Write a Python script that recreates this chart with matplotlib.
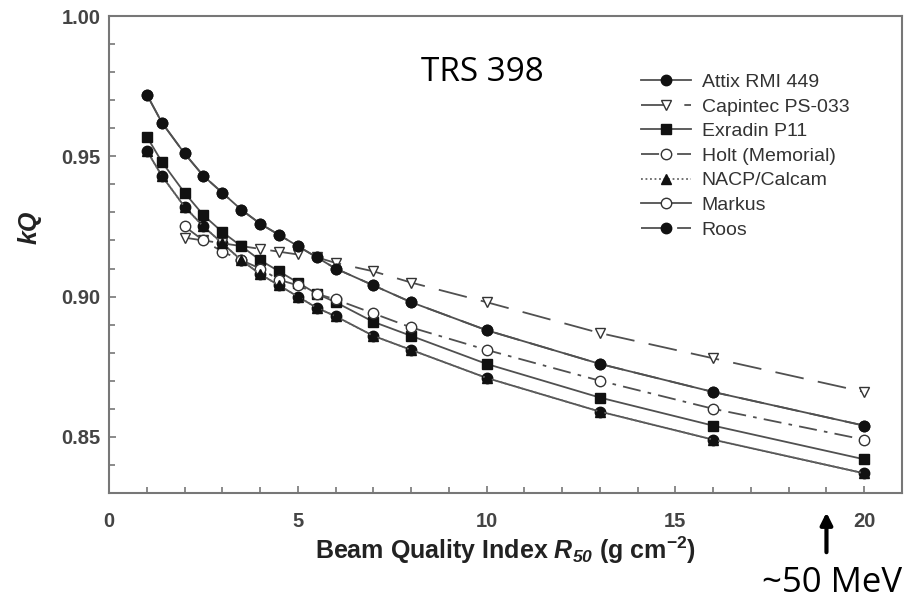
import matplotlib.pyplot as plt
import numpy as np

# ==========================================
# DATA
# ==========================================
r50 = [1.0, 1.4, 2.0, 2.5, 3.0, 3.5, 4.0, 4.5, 5.0, 5.5, 6.0, 7.0, 8.0, 10.0, 13.0, 16.0, 20.0]
r50_short = [2.0, 2.5, 3.0, 3.5, 4.0, 4.5, 5.0, 5.5, 6.0, 7.0, 8.0, 10.0, 13.0, 16.0, 20.0]

attix = [0.952, 0.943, 0.932, 0.925, 0.919, 0.913, 0.908, 0.904, 0.900, 0.896, 0.893,
         0.886, 0.881, 0.871, 0.859, 0.849, 0.837]
capintec = [0.921, 0.920, 0.919, 0.918, 0.917, 0.916, 0.915, 0.914, 0.912, 0.909, 0.905,
            0.898, 0.887, 0.878, 0.866]
exradin = [0.957, 0.948, 0.937, 0.929, 0.923, 0.918, 0.913, 0.909, 0.905, 0.901, 0.898,
           0.891, 0.886, 0.876, 0.864, 0.854, 0.842]
holt = [0.925, 0.920, 0.916, 0.913, 0.910, 0.906, 0.904, 0.901, 0.899, 0.894, 0.889,
        0.881, 0.870, 0.860, 0.849]
nacp = [0.952, 0.943, 0.932, 0.925, 0.919, 0.913, 0.908, 0.904, 0.900, 0.896, 0.893,
        0.886, 0.881, 0.871, 0.859, 0.849, 0.837]
markus = [0.972, 0.962, 0.951, 0.943, 0.937, 0.931, 0.926, 0.922, 0.918, 0.914, 0.910,
          0.904, 0.898, 0.888, 0.876, 0.866, 0.854]
roos = [0.972, 0.962, 0.951, 0.943, 0.937, 0.931, 0.926, 0.922, 0.918, 0.914, 0.910,
        0.904, 0.898, 0.888, 0.876, 0.866, 0.854]

x_ticks = [0, 5, 10, 15, 20]
y_ticks = [0.85, 0.90, 0.95, 1.00]

# ==========================================
# PLOTTING
# ==========================================
plt.rcParams['font.family'] = ['Liberation Sans', 'DejaVu Sans']
plt.rcParams['mathtext.fontset'] = 'custom'
plt.rcParams['mathtext.rm'] = 'Liberation Sans:bold'
plt.rcParams['mathtext.it'] = 'Liberation Sans:bold:italic'
plt.rcParams['mathtext.sf'] = 'Liberation Sans:bold:italic'
plt.rcParams['mathtext.bf'] = 'Liberation Sans:bold'

fig = plt.figure(figsize=(9.11, 6.02), dpi=100)
ax = fig.add_axes([0.1197, 0.1811, 0.8704, 0.7923])

line_col = '#505050'
mk_col = '#111111'
lw = 1.3
ms = 7.5

ax.plot(r50, attix, color=line_col, lw=lw, ls='-', marker='o', ms=ms,
        mfc=mk_col, mec=mk_col, label='Attix RMI 449')
ax.plot(r50_short, capintec, color=line_col, lw=lw, ls=(0, (16, 8)), marker='v', ms=ms,
        mfc='white', mec='#333333', label='Capintec PS-033')
ax.plot(r50, exradin, color=line_col, lw=lw, ls='-', marker='s', ms=ms - 0.5,
        mfc=mk_col, mec=mk_col, label='Exradin P11')
ax.plot(r50_short, holt, color=line_col, lw=lw, ls=(0, (10, 4, 2, 4)), marker='o', ms=ms,
        mfc='white', mec='#333333', label='Holt (Memorial)')
ax.plot(r50, nacp, color='#666666', lw=lw, ls=(0, (1, 1.5)), marker='^', ms=ms - 1,
        mfc=mk_col, mec=mk_col, label='NACP/Calcam')
ax.plot(r50, markus, color=line_col, lw=lw, ls='-', marker='o', ms=ms,
        mfc='white', mec='#333333', label='Markus')
ax.plot(r50, roos, color=line_col, lw=lw, ls=(0, (14, 6)), marker='o', ms=ms,
        mfc=mk_col, mec=mk_col, label='Roos')

ax.set_xlim(0, 21)
ax.set_ylim(0.83, 1.00)
ax.set_xticks(x_ticks)
ax.set_yticks(y_ticks)
ax.set_xticks(np.arange(0, 21, 1), minor=True)
ax.set_yticks(np.arange(0.83, 1.0, 0.01), minor=True)
ax.set_yticklabels([f'{v:.2f}' for v in y_ticks])

for s in ax.spines.values():
    s.set_color('#777777')
    s.set_linewidth(1.5)

ax.tick_params(which='both', direction='in', color='#777777', width=1.2,
               top=False, right=False)
ax.tick_params(which='major', length=5)
ax.tick_params(which='minor', length=4)
ax.tick_params(axis='x', which='major', pad=14)
ax.tick_params(axis='y', which='major', pad=6)
for lab in ax.get_xticklabels() + ax.get_yticklabels():
    lab.set_fontsize(14.5)
    lab.set_fontweight('bold')
    lab.set_color('#444444')

ax.set_xlabel(r'Beam Quality Index $R_{\mathsf{50}}$ (g cm$^{\mathrm{-2}}$)',
              fontsize=18, fontweight='bold', color='#222222', labelpad=2)
ax.set_ylabel('kQ', fontsize=18, fontweight='bold', fontstyle='italic', color='#222222')
ax.yaxis.set_label_coords(-0.085, 0.556)

ax.legend(loc='upper left', bbox_to_anchor=(0.658, 0.90), frameon=False,
          fontsize=14, handlelength=2.6, handletextpad=0.55, labelspacing=0.36,
          borderpad=0, numpoints=1, labelcolor='#333333')

ax.text(9.9, 0.980, 'TRS 398', fontsize=24, family='Open Sans', color='black',
        ha='center', va='center')

# arrow pointing at ~50 MeV on the energy axis
ax.annotate('', xy=(19, -0.035), xycoords=('data', 'axes fraction'),
            xytext=(19, -0.13), textcoords=('data', 'axes fraction'),
            arrowprops=dict(arrowstyle='-|>,head_width=0.35,head_length=0.7',
                            lw=3, color='black'), annotation_clip=False)
fig.text(0.913, 0.031, '~50 MeV', fontsize=25, family='Open Sans', color='black',
         ha='center', va='center')

plt.savefig('out.png', dpi=100)
